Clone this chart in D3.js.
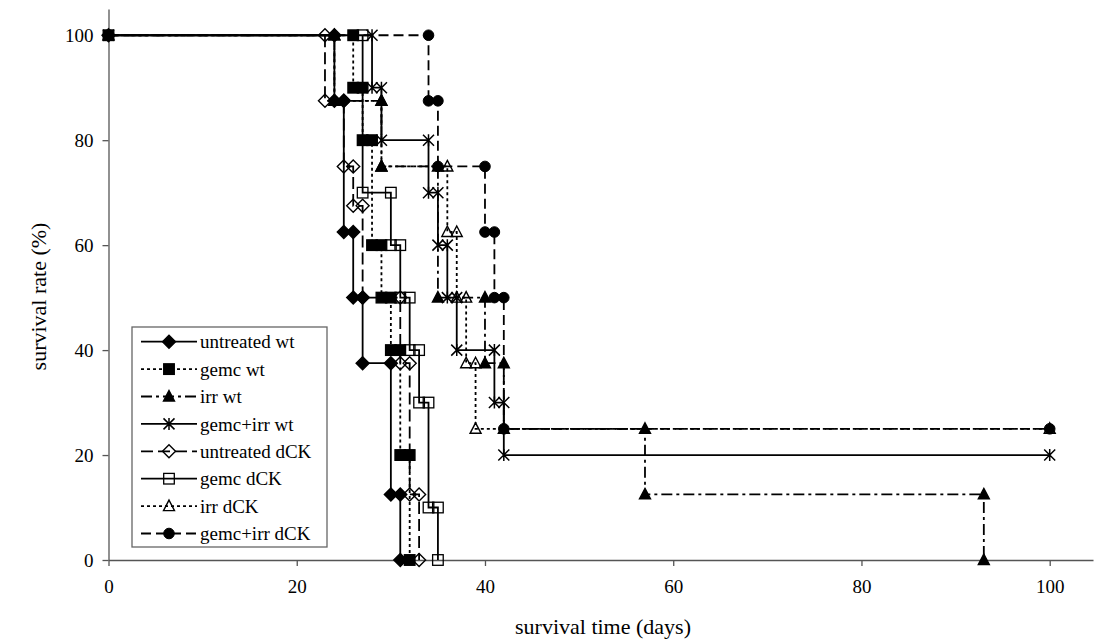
<!DOCTYPE html>
<html><head><meta charset="utf-8">
<script src="https://cdn.jsdelivr.net/npm/d3@7"></script>
<style>body{margin:0;background:#fff}svg{display:block}</style>
</head><body>
<svg id="c" width="1098" height="640"></svg>
<script>
// ---- data (Kaplan-Meier step points) ----
const seriesNames = ["untreated wt","gemc wt","irr wt","gemc+irr wt","untreated dCK","gemc dCK","irr dCK","gemc+irr dCK"];
const daysUntreatedWt = [0,24,24,25,25,26,26,27,27,30,30,31,31];
const survUntreatedWt = [100,100,87.5,87.5,62.5,62.5,50,50,37.5,37.5,12.5,12.5,0];
const daysGemcWt = [0,26,26,27,27,28,28,29,29,30,30,31,31,32,32];
const survGemcWt = [100,100,90,90,80,80,60,60,50,50,40,40,20,20,0];
const daysIrrWt = [0,24,24,29,29,35,35,40,40,42,42,57,57,93,93];
const survIrrWt = [100,100,87.5,87.5,75,75,50,50,37.5,37.5,25,25,12.5,12.5,0];
const daysGemcIrrWt = [0,28,28,29,29,34,34,35,35,36,36,37,37,41,41,42,42,100];
const survGemcIrrWt = [100,100,90,90,80,80,70,70,60,60,50,50,40,40,30,30,20,20];
const daysUntreatedDck = [23,23,25,25,26,26,27,27,31,31,32,32,33,33];
const survUntreatedDck = [100,87.5,87.5,75,75,67.5,67.5,50,50,37.5,37.5,12.5,12.5,0];
const daysGemcDck = [27,27,30,30,31,31,32,32,33,33,34,34,35,35];
const survGemcDck = [100,70,70,60,60,50,50,40,40,30,30,10,10,0];
const daysIrrDck = [24,24,29,29,36,36,37,37,38,38,39,39,100];
const survIrrDck = [100,87.5,87.5,75,75,62.5,62.5,50,50,37.5,37.5,25,25];
const daysGemcIrrDck = [0,34,34,35,35,40,40,41,41,42,42,100];
const survGemcIrrDck = [100,100,87.5,87.5,75,75,62.5,62.5,50,50,25,25];
const xTicks = [0,20,40,60,80,100];
const yTicks = [0,20,40,60,80,100];

const seriesDays = [daysUntreatedWt,daysGemcWt,daysIrrWt,daysGemcIrrWt,daysUntreatedDck,daysGemcDck,daysIrrDck,daysGemcIrrDck];
const seriesSurv = [survUntreatedWt,survGemcWt,survIrrWt,survGemcIrrWt,survUntreatedDck,survGemcDck,survIrrDck,survGemcIrrDck];

// ---- styles ----
const markerType = ["diamond","square","triangle","star","diamondOpen","squareOpen","triangleOpen","circle"];
const dashes = [null,"3,3","11,4,3,4",null,"12,5",null,"3,3","10,5"];

const svg = d3.select("#c");
const pL = 108.5, pR = 1093, pT = 9, pB = 560;
const x = d3.scaleLinear().domain([0,104.6]).range([pL,pR]);
const y = d3.scaleLinear().domain([0,105]).range([pB,pT]);
const font = "'Liberation Serif','Times New Roman',serif";

// axes
const xAxis = svg.append("g").attr("transform",`translate(0,${pB})`)
  .call(d3.axisBottom(x).tickValues(xTicks).tickSize(6).tickPadding(14).tickSizeOuter(0));
const yAxis = svg.append("g").attr("transform",`translate(${pL},0)`)
  .call(d3.axisLeft(y).tickValues(yTicks).tickSize(6).tickPadding(9).tickSizeOuter(0));
[xAxis,yAxis].forEach(a=>{
  a.selectAll("path,line").attr("stroke","#555").attr("stroke-width",1.3);
  a.selectAll("text").attr("font-family",font).attr("font-size",19).attr("fill","#000");
});
svg.append("text").attr("x",603).attr("y",634).attr("text-anchor","middle")
  .attr("font-family",font).attr("font-size",22).text("survival time (days)");
svg.append("text").attr("transform",`translate(46,${(pB+pT)/2+12}) rotate(-90)`).attr("text-anchor","middle")
  .attr("font-family",font).attr("font-size",22).text("survival rate (%)");

function drawMarker(g, type, cx, cy){
  const s = 5.3;
  if(type.startsWith("diamond")){
    g.append("path").attr("d",`M${cx},${cy-6.5}L${cx+6.5},${cy}L${cx},${cy+6.5}L${cx-6.5},${cy}Z`)
     .attr("fill",type==="diamond"?"#000":"none").attr("stroke","#000").attr("stroke-width",1.4);
  } else if(type.startsWith("square")){
    g.append("rect").attr("x",cx-s).attr("y",cy-s).attr("width",2*s).attr("height",2*s)
     .attr("fill",type==="square"?"#000":"none").attr("stroke","#000").attr("stroke-width",1.3);
  } else if(type.startsWith("triangle")){
    g.append("path").attr("d",`M${cx},${cy-6}L${cx+5.5},${cy+4.5}L${cx-5.5},${cy+4.5}Z`)
     .attr("fill",type==="triangle"?"#000":"none").attr("stroke","#000").attr("stroke-width",1.4);
  } else if(type==="circle"){
    g.append("circle").attr("cx",cx).attr("cy",cy).attr("r",5.3).attr("fill","#000").attr("stroke","#000");
  } else if(type==="star"){
    g.append("path").attr("d",`M${cx-5.5},${cy-5.5}L${cx+5.5},${cy+5.5}M${cx-5.5},${cy+5.5}L${cx+5.5},${cy-5.5}M${cx},${cy-6}L${cx},${cy+6}`)
     .attr("fill","none").attr("stroke","#000").attr("stroke-width",1.5);
  }
}

const line = d3.line().x(d=>x(d[0])).y(d=>y(d[1]));
const plot = svg.append("g");
seriesDays.forEach((days,i)=>{
  const pts = days.map((d,j)=>[d,seriesSurv[i][j]]);
  plot.append("path").attr("d",line(pts)).attr("fill","none").attr("stroke","#000")
    .attr("stroke-width",1.8).attr("stroke-dasharray",dashes[i]);
});
seriesDays.forEach((days,i)=>{
  const g = plot.append("g");
  days.forEach((d,j)=>drawMarker(g, markerType[i], x(d), y(seriesSurv[i][j])));
});

// legend
const lg = svg.append("g");
lg.append("rect").attr("x",132).attr("y",327).attr("width",195).attr("height",220)
  .attr("fill","#fff").attr("stroke","#666").attr("stroke-width",1.3);
seriesNames.forEach((n,i)=>{
  const cy = 341.7 + i*27.4;
  lg.append("line").attr("x1",141).attr("x2",197).attr("y1",cy).attr("y2",cy)
    .attr("stroke","#000").attr("stroke-width",1.8).attr("stroke-dasharray",dashes[i]);
  drawMarker(lg, markerType[i], 169, cy);
  lg.append("text").attr("x",200).attr("y",cy).attr("dy","0.35em")
    .attr("font-family",font).attr("font-size",19).text(n);
});
</script>
</body></html>
